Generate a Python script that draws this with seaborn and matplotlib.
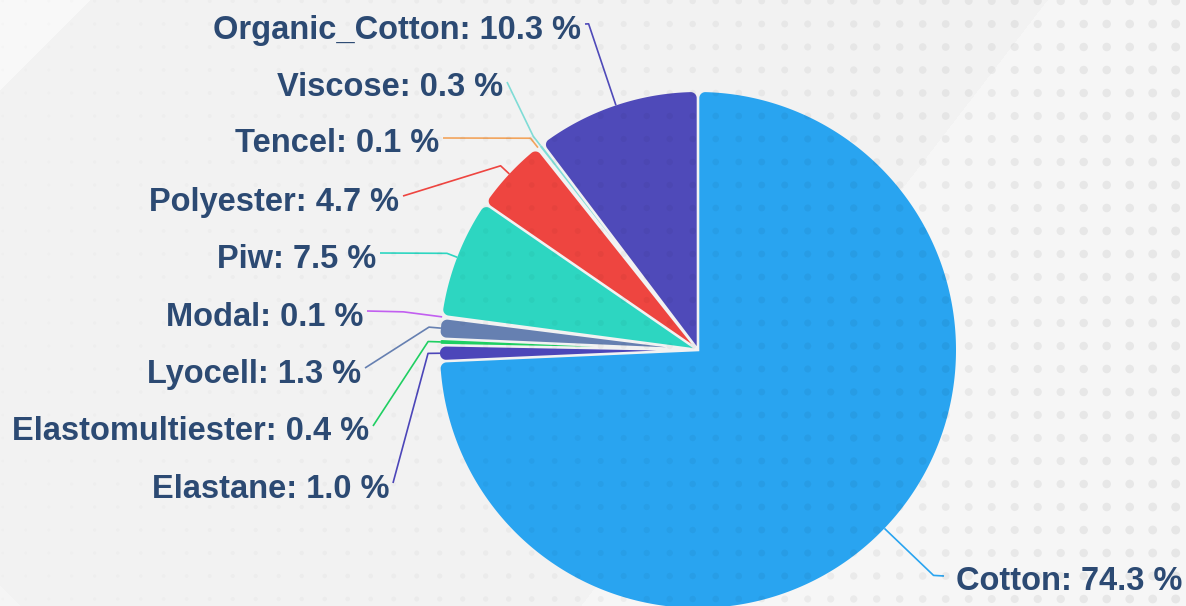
import numpy as np
import matplotlib
matplotlib.use("Agg")
import matplotlib.pyplot as plt
from matplotlib.patches import Polygon
import seaborn as sns

# ----------------------------------------------
# Data
# ----------------------------------------------
MATERIALS = ["Cotton", "Elastane", "Elastomultiester", "Lyocell", "Modal",
             "Piw", "Polyester", "Tencel", "Viscose", "Organic_Cotton"]
SHARES = [74.3, 1.0, 0.4, 1.3, 0.1, 7.5, 4.7, 0.1, 0.3, 10.3]
COLORS = ["#29a4f0", "#4c46b9", "#1fcf62", "#6680b1", "#c25ff0",
          "#2dd6c1", "#ee4540", "#f2a45c", "#7fdcd6", "#4f4ab9"]

# ----------------------------------------------
# Layout (pixels, y measured from the top)
# ----------------------------------------------
W, H = 1186, 606
CX, CY, R = 698, 350, 258
GAP, CORNER = 2.6, 6.0
LEAD1 = [68, 12, 12, 12, 39, 11, 12, 12, 12, 86]          # radial part of leader
LABEL_X = [944, 393, 373, 365, 367, 380, 403, 443, 507, 585]
LABEL_Y = [576, 483, 426, 368, 311, 253, 196, 138, 82, 24]
TEXT_COLOR = "#2c4a73"

sns.set_theme(style="white")
plt.rcParams["font.family"] = ["Liberation Sans", "DejaVu Sans"]


def rounded_wedge(cx, cy, r, t1, t2, gap=GAP, rho=CORNER, n=24):
    """Wedge outline with a white gap on both sides and rounded outer corners."""
    a1, a2 = np.radians(t1), np.radians(t2)
    theta = a2 - a1
    h = gap / 2
    if theta < np.pi:
        s = np.sin(theta / 2)
        rho = min(rho, (r * s - h) / (1 + s))
        if rho <= 0.05:
            return None
    n1 = np.array([-np.sin(a1), np.cos(a1)])
    n2 = np.array([np.sin(a2), -np.cos(a2)])
    tip = np.linalg.solve(np.vstack([n1, n2]), [h, h])
    phi = np.arcsin((h + rho) / (r - rho))
    c1 = (r - rho) * np.array([np.cos(a1 + phi), np.sin(a1 + phi)])
    c2 = (r - rho) * np.array([np.cos(a2 - phi), np.sin(a2 - phi)])
    f1 = np.linspace(a1 - np.pi / 2, a1 + phi, n)
    arc = np.linspace(a1 + phi, a2 - phi, max(int(np.degrees(theta) * 2), 4))
    f2 = np.linspace(a2 - phi, a2 + np.pi / 2, n)
    pts = [tip]
    pts += list(c1 + rho * np.c_[np.cos(f1), np.sin(f1)])
    pts += list(r * np.c_[np.cos(arc), np.sin(arc)])
    pts += list(c2 + rho * np.c_[np.cos(f2), np.sin(f2)])
    return np.array(pts) + [cx, cy]


fig = plt.figure(figsize=(W / 100, H / 100), dpi=100)
ax = fig.add_axes([0, 0, 1, 1])

# background: light grey with soft diagonal bands
gx, gy = np.meshgrid(np.arange(W), np.arange(H))
bg = np.full((H, W), 0.950)
bg[gx + 0.77 * gy > 1047] += 0.017
bg[gx + gy < 90] += 0.025
bg[(gx - gy < -585)] += 0.012
ax.imshow(np.dstack([bg] * 3), extent=[0, W, 0, H], origin="upper",
          zorder=0, interpolation="bilinear")

# pie through matplotlib, then redraw each wedge with rounded corners
wedges, _ = ax.pie(SHARES, colors=COLORS, startangle=90, counterclock=False,
                   center=(CX, H - CY), radius=R, frame=True)
for w, col in zip(wedges, COLORS):
    w.set_visible(False)
    pts = rounded_wedge(CX, H - CY, R, w.theta1, w.theta2)
    if pts is not None:
        ax.add_patch(Polygon(pts, closed=True, facecolor=col,
                             edgecolor="none", zorder=2))

# leader lines and labels
for i, (w, name, val, col) in enumerate(zip(wedges, MATERIALS, SHARES, COLORS)):
    mid = np.radians((w.theta1 + w.theta2) / 2)
    u = np.array([np.cos(mid), np.sin(mid)])
    edge = np.array([CX, H - CY]) + R * u
    elbow = np.array([CX, H - CY]) + (R + LEAD1[i]) * u
    end = np.array([LABEL_X[i], H - LABEL_Y[i]])
    ax.plot([edge[0], elbow[0], end[0]], [edge[1], elbow[1], end[1]],
            color=col, lw=1.2, solid_capstyle="butt", zorder=3)
    right_side = end[0] > CX
    ax.text(end[0] + (12 if right_side else -4), end[1] - 14.5,
            f"{name}: {val:.1f} %", ha="left" if right_side else "right",
            va="baseline", fontsize=23.5, fontweight="bold",
            color=TEXT_COLOR, zorder=5)

# dotted texture, fading out towards the left
dx, dy = np.meshgrid(np.arange(2.7, W + 10, 23), np.arange(1, H + 10, 23))
dx, dy = dx.ravel(), dy.ravel()
frac = dx / W
diam_pt = (3 + 6 * frac) * 0.72
rgba = np.zeros((dx.size, 4))
rgba[:, 3] = 0.012 + 0.05 * frac ** 1.2
ax.scatter(dx, H - dy, s=diam_pt ** 2, c=rgba, linewidths=0, zorder=4)

ax.set_xlim(0, W)
ax.set_ylim(0, H)
ax.set_aspect("auto")
ax.axis("off")

fig.savefig("out.png", dpi=100)
plt.close(fig)
